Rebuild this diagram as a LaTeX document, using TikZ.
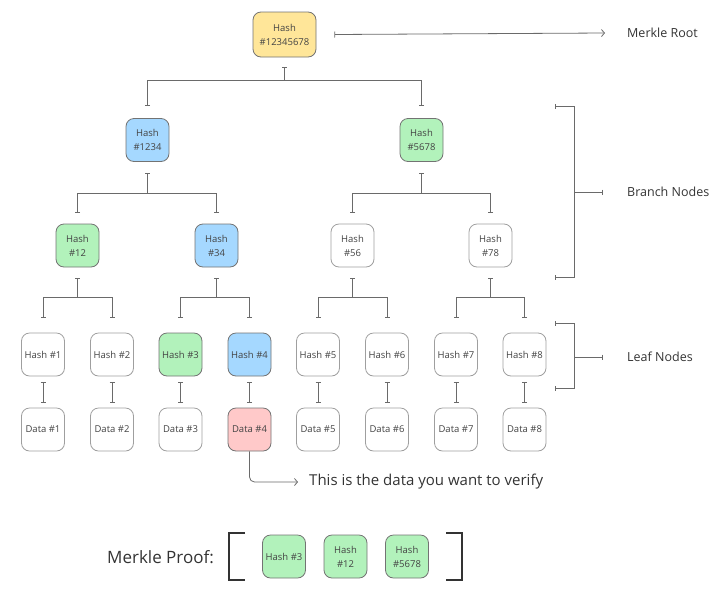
\documentclass[tikz,border=0pt]{standalone}
\usepackage{fontspec}
\setmainfont{Open Sans}
\usetikzlibrary{arrows.meta,calc}
\definecolor{yel}{HTML}{FFE699}
\definecolor{blu}{HTML}{A5D8FF}
\definecolor{grn}{HTML}{B2F2BB}
\definecolor{rdd}{HTML}{FFC9C9}
\definecolor{lin}{HTML}{6A6A6A}
\definecolor{txt}{HTML}{444444}
\definecolor{dark}{HTML}{333333}
\begin{document}
\begin{tikzpicture}[x=1pt,y=-1pt,
  box/.style={draw=#1, rounded corners=8pt, minimum width=43pt, minimum height=43pt,
    inner sep=0.5pt, align=center, font=\fontsize{9.5}{14}\selectfont, text=txt, line width=0.8pt},
  wbox/.style={box=gray!75, fill=white},
  ybox/.style={box=gray!90!black, fill=yel, minimum width=63pt, minimum height=45pt},
  bbox/.style={box=gray!90!black, fill=blu},
  gbox/.style={box=gray!90!black, fill=grn},
  rbox/.style={box=gray!90!black, fill=rdd},
  conn/.style={draw=lin, line width=0.8pt, {Bar[width=5pt]}-{Bar[width=5pt]}},
  barend/.style={draw=lin, line width=0.8pt, -{Bar[width=5pt]}},
  pointer/.style={draw=lin, line width=0.8pt, -{Straight Barb[length=3pt,width=7pt]}},
  barpointer/.style={draw=lin, line width=0.8pt, {Bar[width=6pt]}-{Straight Barb[length=3pt,width=7pt]}},
  label/.style={anchor=west, text=dark, inner sep=0pt, font=\fontsize{12.5}{15}\selectfont},
  pbracket/.style={draw=dark, line width=1.8pt}
]
\useasboundingbox (0,0) rectangle (722,600);

% root
\node[ybox] (r) at (284.5,34.5) {Hash\\\#12345678};
% level 1
\node[bbox] (n1234) at (147.5,140) {Hash\\\#1234};
\node[gbox] (n5678) at (421.5,140) {Hash\\\#5678};
% level 2
\node[gbox] (n12) at (77.5,245.5) {Hash\\\#12};
\node[bbox] (n34) at (216.5,245.5) {Hash\\\#34};
\node[wbox] (n56) at (352.5,245.5) {Hash\\\#56};
\node[wbox] (n78) at (490.5,245.5) {Hash\\\#78};
% leaves
\node[wbox] (h1) at (43,354.5) {Hash \#1};
\node[wbox] (h2) at (112,354.5) {Hash \#2};
\node[gbox] (h3) at (180.5,354.5) {Hash \#3};
\node[bbox] (h4) at (249.5,354.5) {Hash \#4};
\node[wbox] (h5) at (318,354.5) {Hash \#5};
\node[wbox] (h6) at (387,354.5) {Hash \#6};
\node[wbox] (h7) at (456,354.5) {Hash \#7};
\node[wbox] (h8) at (524.5,354.5) {Hash \#8};
% data
\node[wbox] (d1) at (43,429.5) {Data \#1};
\node[wbox] (d2) at (112,429.5) {Data \#2};
\node[wbox] (d3) at (180.5,429.5) {Data \#3};
\node[rbox] (d4) at (249.5,429.5) {Data \#4};
\node[wbox] (d5) at (318,429.5) {Data \#5};
\node[wbox] (d6) at (387,429.5) {Data \#6};
\node[wbox] (d7) at (456,429.5) {Data \#7};
\node[wbox] (d8) at (524.5,429.5) {Data \#8};

% tree connectors
\foreach \c in {n1234,n5678}
  \draw[conn] ($(r.south)+(0,10)$) -- ++(0,13) -| ($(\c.north)+(0,-12)$);
\draw[conn] ($(n1234.south)+(0,11)$) -- ++(0,20) -| ($(n12.north)+(0,-11)$);
\draw[conn] ($(n1234.south)+(0,11)$) -- ++(0,20) -| ($(n34.north)+(0,-11)$);
\draw[conn] ($(n5678.south)+(0,11)$) -- ++(0,20) -| ($(n56.north)+(0,-11)$);
\draw[conn] ($(n5678.south)+(0,11)$) -- ++(0,20) -| ($(n78.north)+(0,-11)$);
\draw[conn] ($(n12.south)+(0,11)$) -- ++(0,19) -| ($(h1.north)+(0,-15)$);
\draw[conn] ($(n12.south)+(0,11)$) -- ++(0,19) -| ($(h2.north)+(0,-15)$);
\draw[conn] ($(n34.south)+(0,11)$) -- ++(0,19) -| ($(h3.north)+(0,-15)$);
\draw[conn] ($(n34.south)+(0,11)$) -- ++(0,19) -| ($(h4.north)+(0,-15)$);
\draw[conn] ($(n56.south)+(0,11)$) -- ++(0,19) -| ($(h5.north)+(0,-15)$);
\draw[conn] ($(n56.south)+(0,11)$) -- ++(0,19) -| ($(h6.north)+(0,-15)$);
\draw[conn] ($(n78.south)+(0,11)$) -- ++(0,19) -| ($(h7.north)+(0,-15)$);
\draw[conn] ($(n78.south)+(0,11)$) -- ++(0,19) -| ($(h8.north)+(0,-15)$);
% hash <-> data
\foreach \i in {1,...,8}
  \draw[conn] ($(h\i.south)+(0,6)$) -- ($(d\i.north)+(0,-5)$);

% right labels
\node[label] (mr) at (627,33) {Merkle Root};
\node[label] (bn) at (627,192) {Branch Nodes};
\node[label] (ln) at (627,357) {Leaf Nodes};
\draw[barpointer] ($(r.east)+(18,0)$) -- ($(mr.west)+(-22,0)$);

% brackets
\coordinate (bt) at (555,106);
\coordinate (bb) at (555,277);
\coordinate (lt) at (555,323);
\coordinate (lb) at (555,388);
\draw[conn] (bt) -- (574,106) -- (574,277) -- (bb);
\draw[barend] (574,192) -- ($(bn.west)+(-24,0)$);
\draw[conn] (lt) -- (574,323) -- (574,388) -- (lb);
\draw[barend] (574,357) -- ($(ln.west)+(-24,0)$);

% verify arrow
\node[label, font=\fontsize{15}{18}\selectfont] (vt) at (309,482) {This is the data you want to verify};
\draw[pointer, rounded corners=5pt] (d4.south) |- ($(vt.west)+(-11,0)$);

% Merkle proof
\node[label, font=\fontsize{17}{20}\selectfont] (mp) at (107,557) {Merkle Proof:};
\draw[pbracket] (245,533) -- (229,533) -- (229,580) -- (245,580);
\draw[pbracket] (446,533) -- (462,533) -- (462,580) -- (446,580);
\node[gbox] (p3) at (284,556.5) {Hash \#3};
\node[gbox] (p12) at (345.5,556.5) {Hash\\\#12};
\node[gbox] (p5678) at (407,556.5) {Hash\\\#5678};
\end{tikzpicture}
\end{document}
